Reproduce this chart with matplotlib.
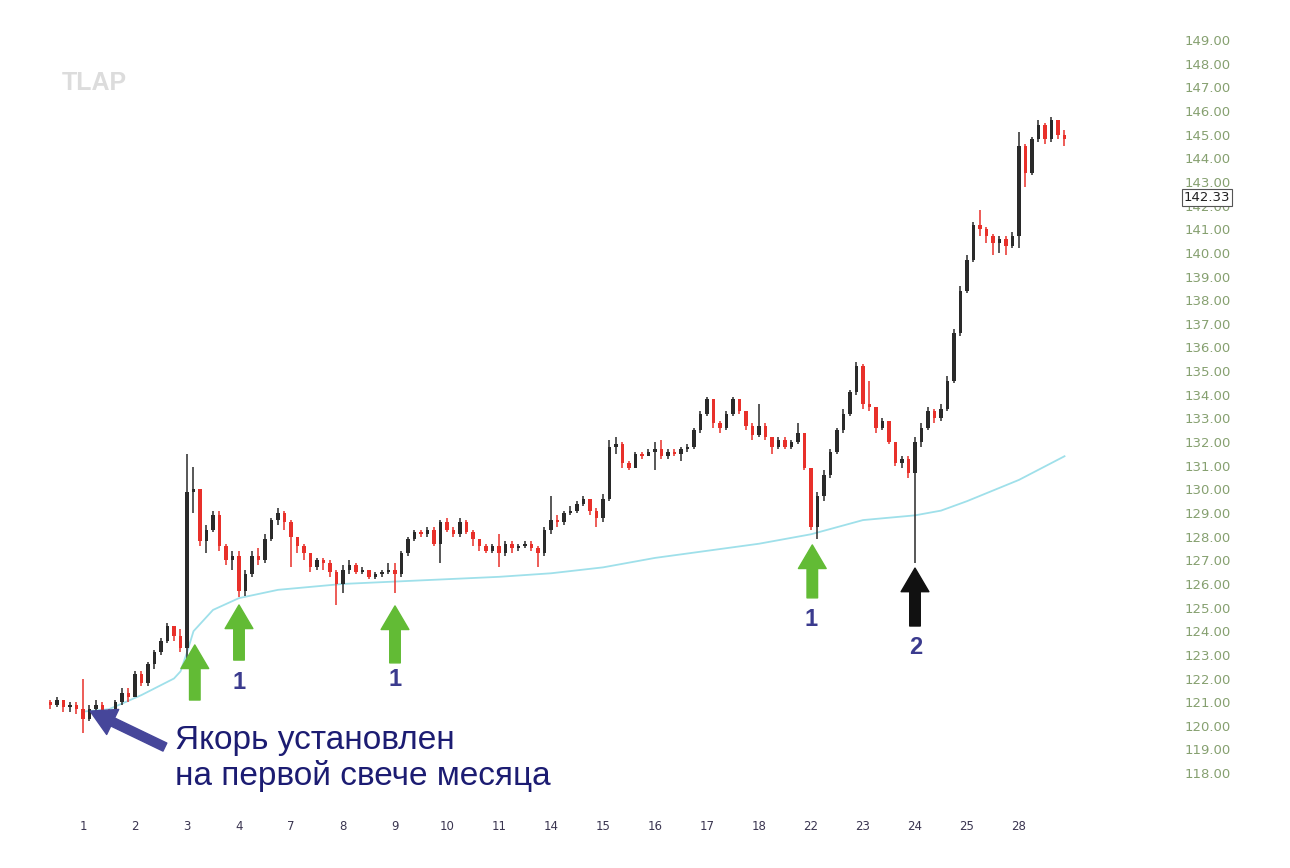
import matplotlib
matplotlib.use("Agg")
import matplotlib.pyplot as plt

# ---- data (8 bars per session) ----
day_labels = ["1", "2", "3", "4", "7", "8", "9", "10", "11", "14", "15",
              "16", "17", "18", "22", "23", "24", "25", "28"]
pre_bars = 5          # bars of the previous month shown before day 1
bars_per_day = 8
first_open = 121.0

closes = [
    120.9, 121.1, 120.8, 120.9, 120.7,
    120.3, 120.7, 120.9, 120.6, 120.5, 121.0, 121.4, 121.2,   # 1
    122.2, 121.8, 122.6, 123.1, 123.6, 124.2, 123.8, 123.3,   # 2
    129.9, 130.0, 127.8, 128.3, 128.9, 127.6, 127.0, 127.2,   # 3
    125.7, 126.4, 127.2, 127.0, 127.9, 128.7, 129.0, 128.6,   # 4
    128.0, 127.6, 127.3, 126.7, 127.0, 126.9, 126.5, 126.0,   # 7
    126.6, 126.8, 126.5, 126.6, 126.3, 126.4, 126.5, 126.6,   # 8
    126.4, 127.3, 127.9, 128.2, 128.1, 128.3, 127.7, 128.6,   # 9
    128.3, 128.1, 128.6, 128.2, 127.9, 127.6, 127.4, 127.6,   # 10
    127.3, 127.7, 127.5, 127.6, 127.7, 127.5, 127.3, 128.3,   # 11
    128.7, 128.6, 129.0, 129.1, 129.4, 129.6, 129.1, 128.8,   # 14
    129.6, 131.8, 131.9, 131.1, 130.9, 131.5, 131.4, 131.6,   # 15
    131.7, 131.4, 131.6, 131.5, 131.7, 131.8, 132.5, 133.2,   # 16
    133.8, 132.8, 132.6, 133.2, 133.8, 133.3, 132.7, 132.3,   # 17
    132.7, 132.2, 131.8, 132.1, 131.8, 132.0, 132.4, 130.9,   # 18
    128.4, 129.7, 130.6, 131.6, 132.5, 133.2, 134.1, 135.2,   # 22
    133.6, 133.5, 132.6, 132.9, 132.0, 131.1, 131.3, 130.7,   # 23
    132.0, 132.6, 133.3, 133.0, 133.4, 134.6, 136.6, 138.4,   # 24
    139.7, 141.2, 141.0, 140.7, 140.4, 140.6, 140.3, 140.7,   # 25
    144.5, 143.4, 144.8, 145.4, 144.8, 145.6, 145.0, 144.8,   # 28
]
highs = [
    121.1, 121.2, 121.1, 121.0, 121.0,
    122.0, 120.9, 121.1, 121.0, 120.7, 121.1, 121.6, 121.6,
    122.3, 122.3, 122.7, 123.2, 123.7, 124.35, 124.2, 124.1,
    131.5, 130.95, 130.0, 128.5, 129.1, 129.1, 127.7, 127.4,
    127.4, 126.6, 127.4, 127.5, 128.1, 128.8, 129.2, 129.1,
    128.7, 128.0, 127.7, 127.3, 127.1, 127.1, 127.0, 126.6,
    126.8, 127.0, 126.9, 126.7, 126.6, 126.5, 126.6, 126.9,
    126.9, 127.4, 128.0, 128.3, 128.3, 128.4, 128.4, 128.7,
    128.8, 128.4, 128.8, 128.7, 128.3, 127.9, 127.7, 127.7,
    128.1, 127.8, 127.8, 127.7, 127.8, 127.8, 127.6, 128.4,
    129.7, 128.9, 129.1, 129.3, 129.5, 129.7, 129.6, 129.2,
    129.8, 132.1, 132.2, 132.0, 131.2, 131.6, 131.6, 131.7,
    132.0, 132.1, 131.7, 131.7, 131.8, 131.9, 132.6, 133.3,
    133.9, 133.8, 132.9, 133.3, 133.9, 133.8, 133.3, 132.8,
    133.6, 132.8, 132.2, 132.2, 132.2, 132.1, 132.8, 132.4,
    130.4, 129.9, 130.8, 131.7, 132.6, 133.4, 134.2, 135.4,
    135.3, 134.6, 133.5, 133.0, 132.9, 132.0, 131.4, 131.4,
    132.2, 132.8, 133.5, 133.4, 133.6, 134.8, 136.8, 138.6,
    139.9, 141.3, 141.8, 141.1, 140.8, 140.7, 140.7, 140.9,
    145.1, 144.6, 144.9, 145.6, 145.5, 145.75, 145.6, 145.2,
]
lows = [
    120.7, 120.8, 120.6, 120.6, 120.5,
    119.7, 120.2, 120.6, 120.5, 120.3, 120.5, 120.9, 121.0,
    121.2, 121.7, 121.7, 122.4, 123.0, 123.5, 123.6, 123.1,
    122.4, 129.0, 127.6, 127.3, 128.2, 127.4, 126.8, 126.6,
    125.45, 125.5, 126.3, 126.8, 126.9, 127.8, 128.5, 128.3,
    126.7, 127.3, 127.0, 126.5, 126.6, 126.6, 126.3, 125.1,
    125.6, 126.4, 126.4, 126.4, 126.2, 126.2, 126.3, 126.4,
    125.6, 126.3, 127.2, 127.8, 128.0, 128.0, 127.6, 126.9,
    128.2, 128.0, 128.0, 128.1, 127.6, 127.4, 127.3, 127.3,
    126.7, 127.2, 127.3, 127.4, 127.5, 127.4, 126.7, 127.2,
    128.1, 128.4, 128.5, 128.9, 129.0, 129.3, 128.9, 128.4,
    128.6, 129.5, 131.5, 130.9, 130.8, 130.9, 131.3, 131.4,
    130.8, 131.3, 131.3, 131.4, 131.2, 131.6, 131.7, 132.4,
    133.1, 132.6, 132.4, 132.5, 133.1, 133.2, 132.5, 132.1,
    132.2, 132.1, 131.5, 131.7, 131.7, 131.7, 131.9, 130.8,
    128.3, 127.9, 129.5, 130.5, 131.5, 132.4, 133.1, 134.0,
    133.4, 133.3, 132.4, 132.5, 131.9, 131.0, 130.9, 130.5,
    126.9, 131.8, 132.5, 132.8, 132.9, 133.3, 134.5, 136.5,
    138.3, 139.6, 140.7, 140.4, 139.9, 140.0, 139.9, 140.2,
    140.2, 142.8, 143.3, 144.7, 144.6, 144.7, 144.8, 144.5,
]

# anchored VWAP (bar index, value), anchored at first bar of the month
vwap_idx = [5, 9, 14, 19, 20, 21, 22, 25, 29, 35, 45, 53, 61, 69, 77, 85,
            93, 101, 109, 117, 125, 133, 137, 141, 149, 156]
vwap_val = [120.6, 120.7, 121.3, 122.0, 122.3, 123.1, 124.0, 124.9, 125.4,
            125.75, 126.0, 126.1, 126.2, 126.3, 126.45, 126.7, 127.1, 127.4,
            127.7, 128.1, 128.7, 128.9, 129.1, 129.5, 130.4, 131.4]
last_price = 142.33

# ---- figure ----
W, H = 1290, 868
fig = plt.figure(figsize=(W / 100, H / 100), dpi=100)
fig.patch.set_facecolor("white")
ax = fig.add_axes([40 / W, 1 - 805 / H, 1135 / W, 785 / H])

UP, DOWN = "#2a2a2a", "#e8302a"
opens = [first_open] + closes[:-1]
xs = list(range(len(closes)))
cols = [UP if c >= o else DOWN for o, c in zip(opens, closes)]
ax.vlines(xs, lows, highs, colors=cols, linewidth=1.1, zorder=2)
bottoms = [min(o, c) for o, c in zip(opens, closes)]
heights = [max(abs(c - o), 0.06) for o, c in zip(opens, closes)]
ax.bar(xs, heights, bottom=bottoms, width=0.58, color=cols, linewidth=0, zorder=3)

ax.plot(vwap_idx, vwap_val, color="#9fe0ea", linewidth=1.3, zorder=1)

ax.set_xlim(-1.615, 173.0)
ax.set_ylim(116.65, 149.85)
for s in ax.spines.values():
    s.set_visible(False)

day_pos = [pre_bars + bars_per_day * k for k in range(len(day_labels))]
ax.set_xticks(day_pos)
ax.set_xticklabels(day_labels, fontsize=8.5, color="#3a3550")
ax.tick_params(axis="x", length=0, pad=11)

ax.yaxis.tick_right()
ax.set_yticks(range(118, 150))
ax.set_yticklabels([f"{v}.00" for v in range(118, 150)], fontsize=9.5,
                   color="#86a070")
ax.tick_params(axis="y", length=0, pad=7)

ax.text(1.0075, last_price, f"{last_price:.2f}", transform=ax.get_yaxis_transform(),
        fontsize=9.5, color="#202020", va="center", ha="left", zorder=10,
        bbox=dict(boxstyle="square,pad=0.15", fc="white", ec="#555555", lw=0.8))

# ---- annotations ----
def arrow(x, tip, tail, color):
    ax.annotate("", xy=(x, tip), xytext=(x, tail), zorder=5,
                arrowprops=dict(arrowstyle="simple,head_width=1.0,head_length=0.85,tail_width=0.38",
                                color=color, shrinkA=0, shrinkB=0, mutation_scale=20))

GREEN = "#62bb35"
arrow(22.2, 123.42, 121.09, GREEN)
arrow(29.0, 125.11, 122.78, GREEN)
arrow(53.0, 125.07, 122.66, GREEN)
arrow(117.2, 127.65, 125.41, GREEN)
arrow(133.0, 126.67, 124.22, "#111111")

num_kw = dict(fontsize=17, fontweight="bold", color="#3b3b8e", ha="center",
              va="center", family="Liberation Sans")
ax.text(29.0, 121.81, "1", **num_kw)
ax.text(53.0, 121.94, "1", **num_kw)
ax.text(117.0, 124.48, "1", **num_kw)
ax.text(133.15, 123.29, "2", **num_kw)

ax.annotate("", xy=(6.1, 120.62), xytext=(17.6, 119.1), zorder=6,
            arrowprops=dict(arrowstyle="simple,head_width=1.0,head_length=0.9,tail_width=0.32",
                            color="#46469a", shrinkA=0, shrinkB=0, mutation_scale=20))

fig.text(175 / W, 1 - 749 / H, "Якорь установлен", fontsize=24,
         color="#1c1c72", family="Liberation Sans", va="baseline")
fig.text(175 / W, 1 - 785 / H, "на первой свече месяца", fontsize=24,
         color="#1c1c72", family="Liberation Sans", va="baseline")

fig.text(62 / W, 1 - 83 / H, "TLAP", fontsize=18, fontweight="bold",
         color="#dcdcdc", family="Liberation Sans", va="center")

fig.savefig("out.png", dpi=100)
plt.close(fig)
